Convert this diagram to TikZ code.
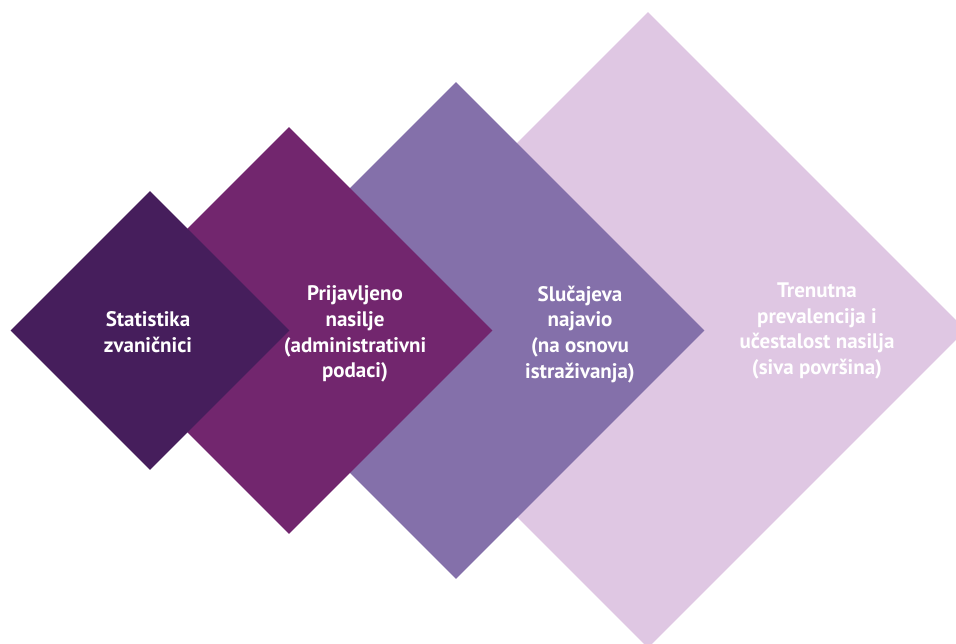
\documentclass[tikz,border=0pt]{standalone}
\usepackage{fontspec}
\setmainfont{PT Sans}
\usetikzlibrary{shapes.geometric}
\definecolor{tierA}{HTML}{461E5C}
\definecolor{tierB}{HTML}{72266E}
\definecolor{tierC}{HTML}{8470AA}
\definecolor{tierD}{HTML}{DFC7E3}
\tikzset{
  tier/.style={diamond, aspect=1, inner sep=0pt, draw=none, minimum size=#1},
  tierlabel/.style={text=white, align=center, inner sep=0pt,
    font=\bfseries\fontsize{21}{25.8}\selectfont}
}
\begin{document}
\begin{tikzpicture}[x=1pt,y=-1pt]
  \useasboundingbox (0,0) rectangle (956,643);
  \clip (0,0) rectangle (956,643);
  % back to front
  \node[tier=636pt, fill=tierD] (d4) at (648,330) {};
  \node[tier=497pt, fill=tierC] (d3) at (456,330.5) {};
  \node[tier=407pt, fill=tierB] (d2) at (289,330.5) {};
  \node[tier=279pt, fill=tierA] (d1) at (150,330.5) {};
  % captions
  \node[tierlabel] (t1) at (148,332) {Statistika\\zvaničnici};
  \node[tierlabel] (t2) at (355,334) {Prijavljeno\\nasilje\\(administrativni\\podaci)};
  \node[tierlabel] (t3) at (580,334.5) {Slučajeva\\najavio\\(na osnovu\\istraživanja)};
  \node[tierlabel] (t4) at (817,331) {Trenutna\\prevalencija i\\učestalost nasilja\\(siva površina)};
\end{tikzpicture}
\end{document}
